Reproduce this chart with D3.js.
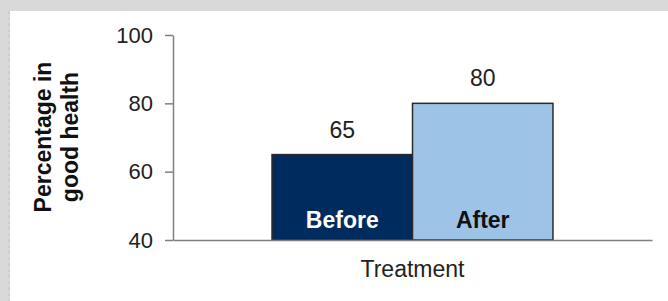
<!DOCTYPE html>
<html>
<head>
<meta charset="utf-8">
<script src="https://cdn.jsdelivr.net/npm/d3@7"></script>
<style>
  html, body { margin: 0; padding: 0; background: #d9d9d9; }
  svg { display: block; font-family: "Liberation Sans", Arial, sans-serif; }
</style>
</head>
<body>
<svg id="chart" width="668" height="301"></svg>
<script>
const categories = ["Before", "After"];
const values = [65, 80];
const barColors = ["#002b5e", "#9dc3e6"];
const labelColors = ["#ffffff", "#111111"];
const yTicks = [40, 60, 80, 100];
const yTitleLines = ["Percentage in", "good health"];
const xTitle = "Treatment";

(function () {
const svg = d3.select("#chart");
const W = 668, H = 301;

// background panel
svg.append("rect").attr("x", 0).attr("y", 0).attr("width", W).attr("height", H).attr("fill", "#d9d9d9");
svg.append("rect").attr("x", 10).attr("y", 11).attr("width", W - 10).attr("height", H - 11).attr("fill", "#ffffff");
svg.append("line").attr("x1", 9).attr("x2", 9).attr("y1", 11).attr("y2", H)
  .attr("stroke", "#c4c4c4").attr("stroke-width", 1).attr("stroke-dasharray", "3,3");

const mLeft = 173, mRight = 652, mTop = 35, mBottom = 240;

const y = d3.scaleLinear().domain([40, 100]).range([mBottom, mTop]);
const x = d3.scaleBand().domain(categories).range([mLeft, mRight]).paddingInner(0).paddingOuter(0.705);

// bars
svg.selectAll("rect.bar").data(categories).enter().append("rect")
  .attr("class", "bar")
  .attr("x", d => x(d))
  .attr("width", x.bandwidth())
  .attr("y", (d, i) => y(values[i]))
  .attr("height", (d, i) => y(40) - y(values[i]))
  .attr("fill", (d, i) => barColors[i])
  .attr("stroke", "#2a2a2a")
  .attr("stroke-width", 1.5);

// y axis
const yAxis = d3.axisLeft(y).tickValues(yTicks).tickSize(8).tickPadding(12).tickSizeOuter(0);
const gy = svg.append("g").attr("transform", `translate(${mLeft},0)`).call(yAxis);
gy.select(".domain").attr("stroke", "#808080").attr("stroke-width", 1.5);
gy.selectAll(".tick line").attr("stroke", "#808080").attr("stroke-width", 1.5);
gy.selectAll(".tick text").attr("font-size", 22).attr("fill", "#222")
  .attr("font-family", "Liberation Sans, Arial, sans-serif");

// x axis line
const xAxis = d3.axisBottom(x).tickSize(0).tickFormat("").tickSizeOuter(0);
const gx = svg.append("g").attr("transform", `translate(0,${mBottom})`).call(xAxis);
gx.select(".domain").attr("stroke", "#808080").attr("stroke-width", 1.5);

// value labels
svg.selectAll("text.val").data(categories).enter().append("text")
  .attr("class", "val")
  .attr("x", d => x(d) + x.bandwidth() / 2)
  .attr("y", (d, i) => y(values[i]) - 17)
  .attr("text-anchor", "middle")
  .attr("font-size", 23)
  .attr("fill", "#222")
  .text((d, i) => values[i]);

// category labels inside bars
svg.selectAll("text.cat").data(categories).enter().append("text")
  .attr("class", "cat")
  .attr("x", d => x(d) + x.bandwidth() / 2)
  .attr("y", y(40) - 12)
  .attr("text-anchor", "middle")
  .attr("font-size", 23)
  .attr("font-weight", "bold")
  .attr("fill", (d, i) => labelColors[i])
  .text(d => d);

// x title
svg.append("text")
  .attr("x", (x(categories[0]) + x(categories[1]) + x.bandwidth()) / 2)
  .attr("y", 277)
  .attr("text-anchor", "middle")
  .attr("font-size", 23)
  .attr("fill", "#222")
  .text(xTitle);

// y title
const yt = svg.append("text")
  .attr("transform", `translate(51,137) rotate(-90)`)
  .attr("text-anchor", "middle")
  .attr("font-size", 23)
  .attr("font-weight", "bold")
  .attr("fill", "#111");
yTitleLines.forEach((t, i) => {
  yt.append("tspan").attr("x", 0).attr("dy", i === 0 ? 0 : 27).text(t);
});
})();
</script>
</body>
</html>
